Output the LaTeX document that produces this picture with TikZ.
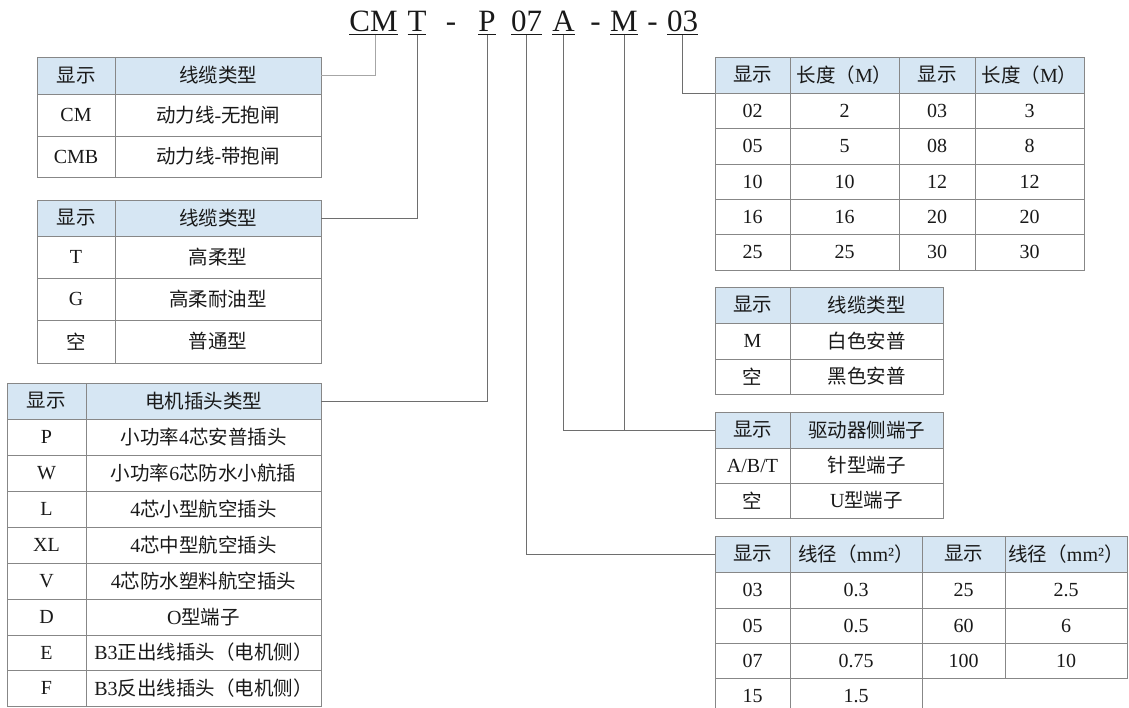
\documentclass[tikz,border=0pt]{standalone}
\usepackage{fontspec}
\setmainfont{Liberation Serif}
\newfontfamily\zhfont{Noto Sans CJK SC}
\newcommand\zh[1]{{\zhfont\fontsize{19.5}{23}\selectfont #1}}
\definecolor{hdrblue}{RGB}{214,230,243}
\definecolor{bord}{RGB}{135,135,135}
\definecolor{connc}{RGB}{110,110,110}
\definecolor{txtc}{RGB}{25,25,25}
\newcommand\cel[7][]{\node[cellbox,#1,minimum width={(#5-#3)*1pt},minimum height={(#6-#4)*1pt}] (#2) at ({(#3+#5)/2},{(#4+#6)/2}) {#7};}
\tikzset{
  cellbox/.style={draw=bord,line width=0.8pt,inner sep=0pt,outer sep=0pt,text=txtc,font=\fontsize{20}{24}\selectfont},
  hdr/.style={fill=hdrblue},
  ttl/.style={inner sep=0pt,outer sep=0pt,font=\fontsize{31}{36}\selectfont,text=txtc},
  uline/.style={line width=0.9pt,draw=txtc},
  conn/.style={line width=0.8pt,draw=connc},
  connl/.style={line width=0.8pt,draw=gray!70}
}
\begin{document}
\begin{tikzpicture}[x=1pt,y=-1pt]
\useasboundingbox (0,0) rectangle (1129,708);
\clip (0,0) rectangle (1129,708);
% ---------- title ----------
\node[ttl,anchor=base] (tCM) at (373.5,32) {CM};
\node[ttl,anchor=base] (tT) at (417,32) {T};
\node[ttl,anchor=base] (d1) at (451,32) {-};
\node[ttl,anchor=base] (tP) at (487,32) {P};
\node[ttl,anchor=base] (t07) at (526.5,32) {07};
\node[ttl,anchor=base] (tA) at (563.5,32) {A};
\node[ttl,anchor=base] (d2) at (595.5,32) {-};
\node[ttl,anchor=base] (tM) at (624,32) {M};
\node[ttl,anchor=base] (d3) at (652.5,32) {-};
\node[ttl,anchor=base] (t03) at (682.5,32) {03};
\foreach \n in {tCM,tT,tP,t07,tA,tM,t03}{
  \draw[uline] ([yshift=-2.5pt]\n.base west) -- ([yshift=-2.5pt]\n.base east);
}
% ---------- table 1 ----------
\cel[hdr]{a00}{37}{57}{115}{94}{\zh{显示}}
\cel[hdr]{a01}{115}{57}{321}{94}{\zh{线缆类型}}
\cel{a10}{37}{94}{115}{136}{CM}
\cel{a11}{115}{94}{321}{136}{\zh{动力线}-\zh{无抱闸}}
\cel{a20}{37}{136}{115}{177}{CMB}
\cel{a21}{115}{136}{321}{177}{\zh{动力线}-\zh{带抱闸}}
% ---------- table 2 ----------
\cel[hdr]{b00}{37}{200}{115}{236}{\zh{显示}}
\cel[hdr]{b01}{115}{200}{321}{236}{\zh{线缆类型}}
\cel{b10}{37}{236}{115}{278}{T}
\cel{b11}{115}{236}{321}{278}{\zh{高柔型}}
\cel{b20}{37}{278}{115}{320}{G}
\cel{b21}{115}{278}{321}{320}{\zh{高柔耐油型}}
\cel{b30}{37}{320}{115}{363}{\zh{空}}
\cel{b31}{115}{320}{321}{363}{\zh{普通型}}
% ---------- table 3 ----------
\cel[hdr]{c00}{7}{383}{86}{419}{\zh{显示}}
\cel[hdr]{c01}{86}{383}{321}{419}{\zh{电机插头类型}}
\cel{c10}{7}{419}{86}{455}{P}
\cel{c11}{86}{419}{321}{455}{\zh{小功率}4\zh{芯安普插头}}
\cel{c20}{7}{455}{86}{491}{W}
\cel{c21}{86}{455}{321}{491}{\zh{小功率}6\zh{芯防水小航插}}
\cel{c30}{7}{491}{86}{527}{L}
\cel{c31}{86}{491}{321}{527}{4\zh{芯小型航空插头}}
\cel{c40}{7}{527}{86}{563}{XL}
\cel{c41}{86}{527}{321}{563}{4\zh{芯中型航空插头}}
\cel{c50}{7}{563}{86}{599}{V}
\cel{c51}{86}{563}{321}{599}{4\zh{芯防水塑料航空插头}}
\cel{c60}{7}{599}{86}{635}{D}
\cel{c61}{86}{599}{321}{635}{O\zh{型端子}}
\cel{c70}{7}{635}{86}{670}{E}
\cel{c71}{86}{635}{321}{670}{B3\zh{正出线插头（电机侧）}}
\cel{c80}{7}{670}{86}{706}{F}
\cel{c81}{86}{670}{321}{706}{B3\zh{反出线插头（电机侧）}}
% ---------- table 4 (length) ----------
\cel[hdr]{d00}{715}{57}{790}{93}{\zh{显示}}
\cel[hdr]{d01}{790}{57}{899}{93}{\zh{长度（}M\zh{）}}
\cel[hdr]{d02}{899}{57}{975}{93}{\zh{显示}}
\cel[hdr]{d03}{975}{57}{1084}{93}{\zh{长度（}M\zh{）}}
\cel{d10}{715}{93}{790}{128}{02}
\cel{d11}{790}{93}{899}{128}{2}
\cel{d12}{899}{93}{975}{128}{03}
\cel{d13}{975}{93}{1084}{128}{3}
\cel{d20}{715}{128}{790}{164}{05}
\cel{d21}{790}{128}{899}{164}{5}
\cel{d22}{899}{128}{975}{164}{08}
\cel{d23}{975}{128}{1084}{164}{8}
\cel{d30}{715}{164}{790}{199}{10}
\cel{d31}{790}{164}{899}{199}{10}
\cel{d32}{899}{164}{975}{199}{12}
\cel{d33}{975}{164}{1084}{199}{12}
\cel{d40}{715}{199}{790}{234}{16}
\cel{d41}{790}{199}{899}{234}{16}
\cel{d42}{899}{199}{975}{234}{20}
\cel{d43}{975}{199}{1084}{234}{20}
\cel{d50}{715}{234}{790}{270}{25}
\cel{d51}{790}{234}{899}{270}{25}
\cel{d52}{899}{234}{975}{270}{30}
\cel{d53}{975}{234}{1084}{270}{30}
% ---------- table 5 ----------
\cel[hdr]{e00}{715}{287}{790}{323}{\zh{显示}}
\cel[hdr]{e01}{790}{287}{943}{323}{\zh{线缆类型}}
\cel{e10}{715}{323}{790}{359}{M}
\cel{e11}{790}{323}{943}{359}{\zh{白色安普}}
\cel{e20}{715}{359}{790}{394}{\zh{空}}
\cel{e21}{790}{359}{943}{394}{\zh{黑色安普}}
% ---------- table 6 ----------
\cel[hdr]{f00}{715}{412}{790}{448}{\zh{显示}}
\cel[hdr]{f01}{790}{412}{943}{448}{\zh{驱动器侧端子}}
\cel{f10}{715}{448}{790}{483}{A/B/T}
\cel{f11}{790}{448}{943}{483}{\zh{针型端子}}
\cel{f20}{715}{483}{790}{518}{\zh{空}}
\cel{f21}{790}{483}{943}{518}{U\zh{型端子}}
% ---------- table 7 (wire gauge) ----------
\cel[hdr]{g00}{715}{536}{790}{572}{\zh{显示}}
\cel[hdr]{g01}{790}{536}{922}{572}{\zh{线径（}mm²\zh{）}}
\cel[hdr]{g02}{922}{536}{1005}{572}{\zh{显示}}
\cel[hdr]{g03}{1005}{536}{1127}{572}{\zh{线径（}mm²\zh{）}}
\cel{g10}{715}{572}{790}{608}{03}
\cel{g11}{790}{572}{922}{608}{0.3}
\cel{g12}{922}{572}{1005}{608}{25}
\cel{g13}{1005}{572}{1127}{608}{2.5}
\cel{g20}{715}{608}{790}{643}{05}
\cel{g21}{790}{608}{922}{643}{0.5}
\cel{g22}{922}{608}{1005}{643}{60}
\cel{g23}{1005}{608}{1127}{643}{6}
\cel{g30}{715}{643}{790}{678}{07}
\cel{g31}{790}{643}{922}{678}{0.75}
\cel{g32}{922}{643}{1005}{678}{100}
\cel{g33}{1005}{643}{1127}{678}{10}
\cel{g40}{715}{678}{790}{714}{15}
\cel{g41}{790}{678}{922}{714}{1.5}
% ---------- connectors ----------
\draw[connl] ([yshift=-3pt]tCM.base) ++(1.5,0) coordinate (cCM) (cCM) |- (a01.east);
\draw[conn] ([yshift=-3pt]tT.base) coordinate (cT) (cT) |- (b01.east);
\draw[conn] ([yshift=-3pt]tP.base) coordinate (cP) (cP) |- (c01.east);
\draw[conn] ([yshift=-3pt]t07.base) coordinate (c07) (c07) |- (g00.west);
\draw[conn] ([yshift=-3pt]tA.base) coordinate (cA) (cA) |- (f00.west);
\draw[conn] ([yshift=-3pt]tM.base) coordinate (cM) (cM) |- (f00.west);
\draw[conn] ([yshift=-3pt]t03.base) coordinate (c03) (c03) |- (d00.south west);
\end{tikzpicture}
\end{document}
